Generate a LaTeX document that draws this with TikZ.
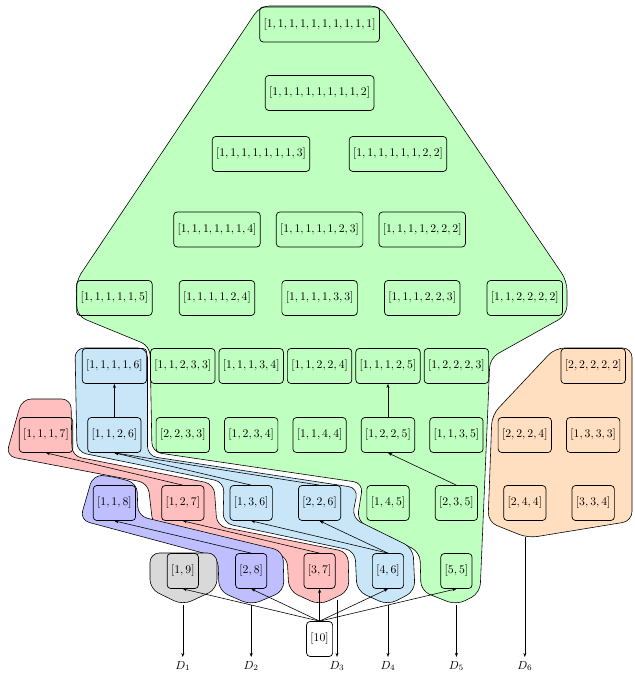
\documentclass[tikz,border=0pt]{standalone}
\usepackage{amsmath,amssymb}
\usetikzlibrary{positioning,arrows.meta}
\definecolor{mint}{HTML}{BFFFBF}
\definecolor{peach}{HTML}{FFDFBF}
\definecolor{sky}{HTML}{C8E6F8}
\definecolor{blush}{HTML}{FFBFBF}
\definecolor{lavender}{HTML}{BFBFFF}
\definecolor{ash}{HTML}{D9D9D9}

\begin{document}
\begin{tikzpicture}[x=0.03cm, y=-0.03cm,
    part/.style={draw, line width=0.6pt, rounded corners=3pt, minimum height=1.05cm},
    region/.style={draw, line width=0.5pt, rounded corners=8pt},
    gen/.style={-{Stealth[length=3.5pt, width=2.6pt]}, line width=0.5pt}]
\useasboundingbox (0,0) rectangle (634,677);

% Regions
\filldraw[region, fill=mint] (320,6) -- (380,6) -- (567,281) -- (567,315) -- (490,358)
    -- (480,593) -- (456.4,605) -- (421,591) -- (420,552) -- (357,521) -- (363,483)
    -- (152,452) -- (150,346) -- (77,316) -- (76,281) -- (260,6) -- cycle;
\filldraw[region, fill=peach] (590,348) -- (632,348) -- (632,521) -- (528,538)
    -- (488,522) -- (492,415) -- (555,348) -- cycle;
\filldraw[region, fill=sky] (110,348) -- (147.5,348) -- (147.5,456) -- (358,488)
    -- (352,518) -- (413,548) -- (415,591) -- (388,605) -- (357,591) -- (355,551)
    -- (223,523) -- (224,482) -- (77,452) -- (75,348) -- cycle;
\filldraw[region, fill=blush] (45,399) -- (71,399) -- (72,456) -- (214,484) -- (217,526)
    -- (348,552) -- (349,591) -- (319.6,605) -- (289,591) -- (287,556) -- (153,526)
    -- (148,483) -- (6,456) -- (22,399) -- cycle;
\filldraw[region, fill=lavender] (110,476) -- (137,483) -- (138,516) -- (283,551)
    -- (284,591) -- (251.2,605) -- (219,591) -- (218,557) -- (80,520) -- (93,475) -- cycle;
\filldraw[region, fill=ash] (183,553) -- (217,553) -- (217,589) -- (182.8,605)
    -- (150,589) -- (150,553) -- cycle;

% Partitions
\node[part] (p1111111111) at (319.6,24.5) {$[1,1,1,1,1,1,1,1,1,1]$};
\node[part] (p111111112) at (319.6,93) {$[1,1,1,1,1,1,1,1,2]$};
\node[part] (p11111113) at (261,154) {$[1,1,1,1,1,1,1,3]$};
\node[part] (p11111122) at (398,154) {$[1,1,1,1,1,1,2,2]$};
\node[part] (p1111114) at (217,229.5) {$[1,1,1,1,1,1,4]$};
\node[part] (p1111123) at (319.6,229.5) {$[1,1,1,1,1,2,3]$};
\node[part] (p1111222) at (422.2,229.5) {$[1,1,1,1,2,2,2]$};
\node[part] (p111115) at (114.4,298) {$[1,1,1,1,1,5]$};
\node[part] (p111124) at (217,298) {$[1,1,1,1,2,4]$};
\node[part] (p111133) at (319.6,298) {$[1,1,1,1,3,3]$};
\node[part] (p111223) at (422.2,298) {$[1,1,1,2,2,3]$};
\node[part] (p112222) at (524.8,298) {$[1,1,2,2,2,2]$};
\node[part] (p11116) at (114.4,366) {$[1,1,1,1,6]$};
\node[part] (p11233) at (182.8,366) {$[1,1,2,3,3]$};
\node[part] (p11134) at (251.2,366) {$[1,1,1,3,4]$};
\node[part] (p11224) at (319.6,366) {$[1,1,2,2,4]$};
\node[part] (p11125) at (388,366) {$[1,1,1,2,5]$};
\node[part] (p12223) at (456.4,366) {$[1,2,2,2,3]$};
\node[part] (p22222) at (593.2,366) {$[2,2,2,2,2]$};
\node[part] (p1117) at (46,435) {$[1,1,1,7]$};
\node[part] (p1126) at (114.4,435) {$[1,1,2,6]$};
\node[part] (p2233) at (182.8,435) {$[2,2,3,3]$};
\node[part] (p1234) at (251.2,435) {$[1,2,3,4]$};
\node[part] (p1144) at (319.6,435) {$[1,1,4,4]$};
\node[part] (p1225) at (388,435) {$[1,2,2,5]$};
\node[part] (p1135) at (456.4,435) {$[1,1,3,5]$};
\node[part] (p2224) at (524.8,435) {$[2,2,2,4]$};
\node[part] (p1333) at (593.2,435) {$[1,3,3,3]$};
\node[part] (p118) at (114.4,503) {$[1,1,8]$};
\node[part] (p127) at (182.8,503) {$[1,2,7]$};
\node[part] (p136) at (251.2,503) {$[1,3,6]$};
\node[part] (p226) at (319.6,503) {$[2,2,6]$};
\node[part] (p145) at (388,503) {$[1,4,5]$};
\node[part] (p235) at (456.4,503) {$[2,3,5]$};
\node[part] (p244) at (524.8,503) {$[2,4,4]$};
\node[part] (p334) at (593.2,503) {$[3,3,4]$};
\node[part] (p19) at (182.8,571) {$[1,9]$};
\node[part] (p28) at (251.2,571) {$[2,8]$};
\node[part] (p37) at (319.6,571) {$[3,7]$};
\node[part] (p46) at (388,571) {$[4,6]$};
\node[part] (p55) at (456.4,571) {$[5,5]$};
\node[part] (p10) at (319.6,639) {$[10]$};

% Refinements
\foreach \t in {p19,p28,p37,p46,p55}
  \draw[gen] (p10.north) -- (\t.south);
\draw[gen] (p28.north) -- (p118.south);
\draw[gen] (p37.north) -- (p127.south);
\draw[gen] (p46.north) -- (p136.south);
\draw[gen] (p46.north) -- (p226.south);
\draw[gen] (p127.north) -- (p1117.south);
\draw[gen] (p136.north) -- (p1126.south);
\draw[gen] (p226.north) -- (p1126.south);
\draw[gen] (p1126.north) -- (p11116.south);
\draw[gen] (p235.north) -- (p1225.south);
\draw[gen] (p1225.north) -- (p11125.south);

% Outputs
\coordinate (t1) at (182.8,605);
\coordinate (t2) at (251.2,605);
\coordinate (t3) at (337,600);
\coordinate (t4) at (388,605);
\coordinate (t5) at (456.4,605);
\coordinate (t6) at (524.8,537);
\node (d1) at (182.8,666) {$D_1$};
\node (d2) at (251.2,666) {$D_2$};
\node (d3) at (337,666) {$D_3$};
\node (d4) at (388,666) {$D_4$};
\node (d5) at (456.4,666) {$D_5$};
\node (d6) at (524.8,666) {$D_6$};
\foreach \i in {1,...,6}
  \draw[gen] (t\i) -- (d\i);
\end{tikzpicture}
\end{document}
